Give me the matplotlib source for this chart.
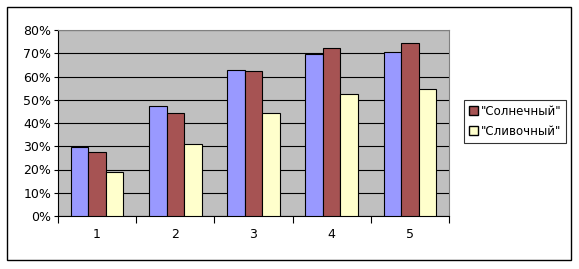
import matplotlib.pyplot as plt
import numpy as np
from matplotlib.patches import Rectangle, Patch

categories = ["1", "2", "3", "4", "5"]
series_blue = [29.8, 47.2, 62.7, 69.7, 70.4]
series_red = [27.4, 44.2, 62.2, 72.1, 74.3]
series_yellow = [18.8, 30.8, 44.2, 52.3, 54.5]
legend_labels = ['"Солнечный"', '"Сливочный"']
y_ticks = [0, 10, 20, 30, 40, 50, 60, 70, 80]

fig = plt.figure(figsize=(5.79, 2.69), dpi=100)
fig.patches.append(Rectangle((7/579, 1-260/269), 564/579, 253/269, transform=fig.transFigure,
                             fill=False, edgecolor='black', linewidth=1))
ax = fig.add_axes([58/579, 1-216/269, 391/579, 186/269])
ax.set_facecolor('#C0C0C0')

x = np.arange(len(categories))
w = 0.225
ax.bar(x - w, series_blue, w, color='#9999FF', edgecolor='black', linewidth=0.8, zorder=3)
ax.bar(x, series_red, w, color='#A65353', edgecolor='black', linewidth=0.8, zorder=3)
ax.bar(x + w, series_yellow, w, color='#FFFFCC', edgecolor='black', linewidth=0.8, zorder=3)

ax.set_xlim(-0.5, 4.5)
ax.set_ylim(0, 80)
ax.set_yticks(y_ticks)
ax.set_yticklabels([f"{v}%" for v in y_ticks], fontsize=9)
ax.yaxis.grid(True, color='black', linewidth=0.8, zorder=1)
ax.set_axisbelow(True)

ax.set_xticks(np.arange(-0.5, 5, 1))
ax.set_xticklabels([])
ax.set_xticks(x, minor=True)
ax.set_xticklabels(categories, minor=True, fontsize=9)
ax.tick_params(axis='x', which='minor', length=0, pad=9)
ax.tick_params(axis='x', which='major', length=5, direction='out')
ax.tick_params(axis='y', length=3, direction='out', pad=2)

for s in ['top', 'right']:
    ax.spines[s].set_color('#808080')
ax.spines['left'].set_color('black')
ax.spines['bottom'].set_color('black')

handles = [Patch(facecolor='#A65353', edgecolor='black'),
           Patch(facecolor='#FFFFCC', edgecolor='black')]
leg = fig.legend(handles, legend_labels, loc='upper left', bbox_to_anchor=(464/579, 1-100/269),
                 fontsize=8.5, frameon=True, fancybox=False, edgecolor='black',
                 handlelength=0.8, handleheight=0.8, handletextpad=0.2, borderpad=0.4,
                 labelspacing=0.6, borderaxespad=0)
leg.get_frame().set_linewidth(0.8)

plt.savefig('out.png', dpi=100)
